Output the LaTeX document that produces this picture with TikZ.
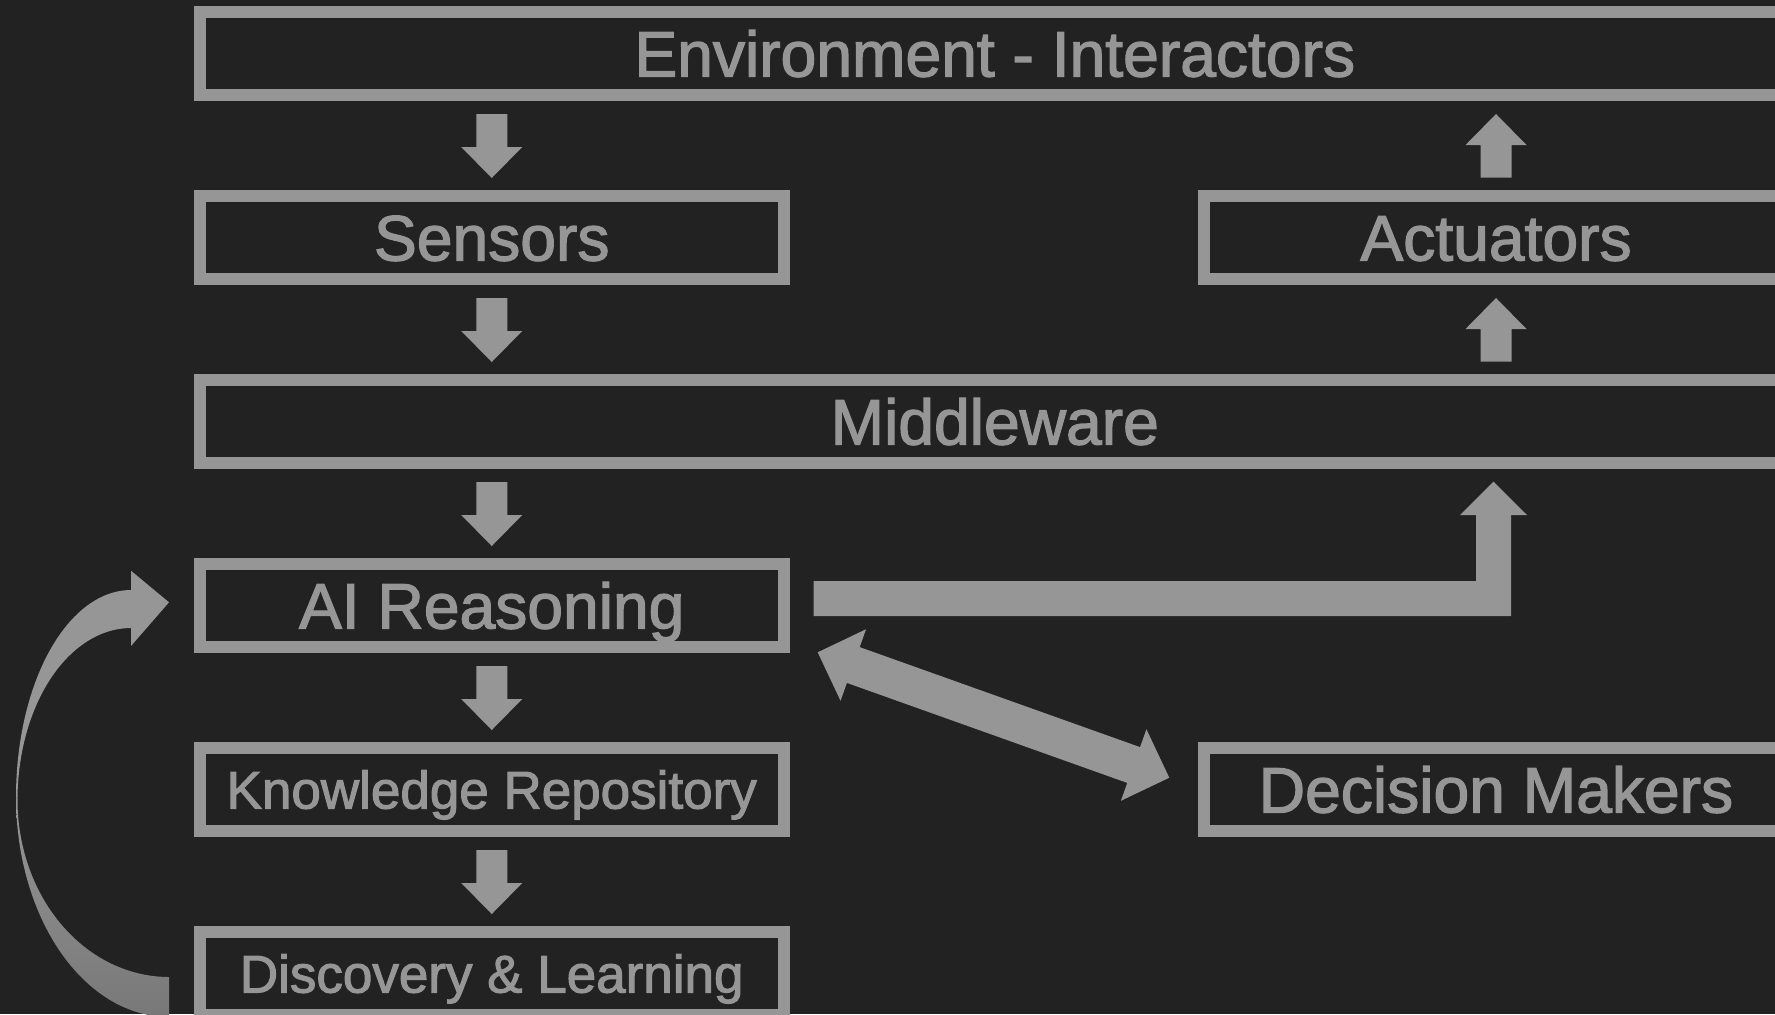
\documentclass[tikz,border=0pt]{standalone}
\usepackage{fontspec}
\setmainfont{Liberation Sans}
\newfontfamily\diagfont[FakeBold=2]{Liberation Sans}
\usetikzlibrary{calc}
\definecolor{bg}{HTML}{222222}
\definecolor{fg}{HTML}{969696}
\definecolor{fgdark}{HTML}{787878}
\newcommand\bigtxt{\diagfont\fontsize{32.1pt}{38pt}\selectfont}
\newcommand\smalltxt{\diagfont\fontsize{26.5pt}{32pt}\selectfont}
% straight block arrow: #1 tail coord, #2 tip coord, #3 shaft half width, #4 head half width, #5 head length
\newcommand\blockarrow[5]{%
  \path ($(#2)!#5!(#1)$) coordinate (bac);
  \fill[fg] ($(#1)!#3!90:(#2)$) -- ($(bac)!#3!90:(#2)$) -- ($(bac)!#4!90:(#2)$) -- (#2)
    -- ($(bac)!#4!-90:(#2)$) -- ($(bac)!#3!-90:(#2)$) -- ($(#1)!#3!-90:(#2)$) -- cycle;}
% double block arrow between tips #1 and #2
\newcommand\dblockarrow[5]{%
  \path ($(#1)!#5!(#2)$) coordinate (dbc1) ($(#2)!#5!(#1)$) coordinate (dbc2);
  \fill[fg] (#1) -- ($(dbc1)!#4!90:(#2)$) -- ($(dbc1)!#3!90:(#2)$) -- ($(dbc2)!#3!-90:(#1)$)
    -- ($(dbc2)!#4!-90:(#1)$) -- (#2) -- ($(dbc2)!#4!90:(#1)$) -- ($(dbc2)!#3!90:(#1)$)
    -- ($(dbc1)!#3!-90:(#2)$) -- ($(dbc1)!#4!-90:(#2)$) -- cycle;}
\begin{document}
\begin{tikzpicture}[x=0.5pt,y=-0.5pt,
  box/.style={draw=fg, line width=6pt, minimum height=41.5pt, inner sep=0pt, outer sep=3pt,
    text=fg, font=\bigtxt, text height=23pt, text depth=0pt},
  narrow/.style={box, minimum width=292.25pt},
  wide/.style={box, minimum width=795.25pt},
  small/.style={font=\smalltxt, text height=19pt}]
\useasboundingbox (0,0) rectangle (1775,1014);
\fill[bg] (0,0) rectangle (1775,1014);
\clip (0,0) rectangle (1775,1014);

% boxes
\node[wide]   (env) at (994.75,53.5)  {Environment - Interactors};
\node[narrow] (sen) at (491.75,237.5)  {Sensors};
\node[narrow] (act) at (1496,237.5)    {Actuators};
\node[wide]   (mid) at (994.75,421.5) {Middleware};
\node[narrow] (ai)  at (491.75,605.5)  {AI Reasoning};
\node[narrow,small] (kr) at (491.75,789.5) {Knowledge Repository};
\node[narrow] (dm)  at (1496,789.5)    {Decision Makers};
\node[narrow,small] (dl) at (491.75,973.5) {Discovery \& Learning};

% small vertical block arrows
\coordinate (a1s) at ($(env.south -| sen.north)+(0,13)$);
\coordinate (a1e) at ($(sen.north)+(0,-12)$);
\blockarrow{a1s}{a1e}{7.75pt}{15.25pt}{15.5pt}
\coordinate (a2s) at ($(sen.south)+(0,13)$);
\coordinate (a2e) at ($(mid.north -| sen.north)+(0,-12)$);
\blockarrow{a2s}{a2e}{7.75pt}{15.25pt}{15.5pt}
\coordinate (a3s) at ($(mid.south -| ai.north)+(0,13)$);
\coordinate (a3e) at ($(ai.north)+(0,-12)$);
\blockarrow{a3s}{a3e}{7.75pt}{15.25pt}{15.5pt}
\coordinate (a4s) at ($(ai.south)+(0,13)$);
\coordinate (a4e) at ($(kr.north)+(0,-12)$);
\blockarrow{a4s}{a4e}{7.75pt}{15.25pt}{15.5pt}
\coordinate (a5s) at ($(kr.south)+(0,13)$);
\coordinate (a5e) at ($(dl.north)+(0,-12)$);
\blockarrow{a5s}{a5e}{7.75pt}{15.25pt}{15.5pt}
\coordinate (u1s) at ($(act.north)+(0,-12.3)$);
\coordinate (u1e) at ($(env.south -| act.north)+(0,13)$);
\blockarrow{u1s}{u1e}{7.75pt}{15.25pt}{15.5pt}
\coordinate (u2s) at ($(mid.north -| act.south)+(0,-12.3)$);
\coordinate (u2e) at ($(act.south)+(0,13)$);
\blockarrow{u2s}{u2e}{7.75pt}{15.25pt}{15.5pt}

% elbow arrow AI Reasoning -> Middleware
\coordinate (el1) at ($(ai.east)+(23.6,-7)$);
\coordinate (el2) at (1493.5,481.7);
\fill[fg] ($(el1)+(0,-17.5)$) -- ($(el1 -| el2)+(-17.5,-17.5)$) -- ($(el2)+(-17.5,33.3)$)
  -- ($(el2)+(-33.5,33.3)$) -- (el2) -- ($(el2)+(33.5,33.3)$) -- ($(el2)+(17.5,33.3)$)
  -- ($(el1 -| el2)+(17.5,17.5)$) -- ($(el1)+(0,17.5)$) -- cycle;

% double arrow AI Reasoning <-> Decision Makers
\coordinate (d1) at ($(ai.east)+(27.7,46.8)$);
\coordinate (d2) at ($(dm.west)+(-28.5,-11.8)$);
\dblockarrow{d1}{d2}{9.5pt}{19pt}{18.9pt}

% curved arrow Discovery & Learning -> AI Reasoning
\fill[fg] (131,590) -- (131,570.7) -- (169,602.3) -- (131,646) -- (131,628)
  -- plot[domain=270:180, samples=50] ({131+113.5*cos(\x)}, {800+172*sin(\x)})
  -- (16,797)
  -- plot[domain=180:270, samples=50] ({131+115*cos(\x)}, {797+207*sin(\x)}) -- cycle;
\shade[top color=fg, bottom color=fgdark] (16,797)
  -- plot[domain=180:90, samples=50] ({169+153*cos(\x)}, {797+220*sin(\x)})
  -- (169,977)
  -- plot[domain=90:180, samples=50] ({169+151.5*cos(\x)}, {800+177*sin(\x)}) -- cycle;
\end{tikzpicture}
\end{document}
